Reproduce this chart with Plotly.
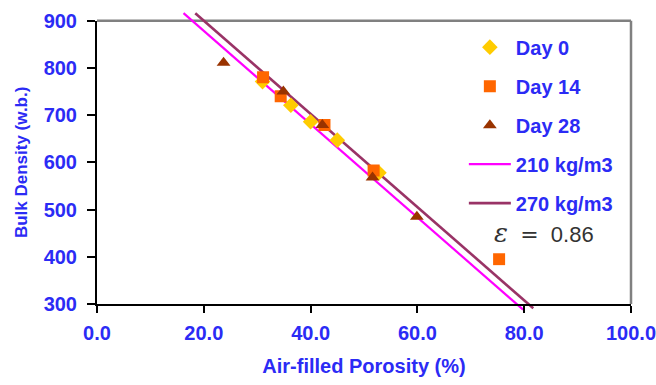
import plotly.graph_objects as go

# ---- data ----
day0_x = [31.0, 36.3, 40.0, 45.0, 52.8]
day0_y = [771, 721, 686, 647, 578]
day14_x = [31.1, 34.4, 42.6, 51.8, 75.3]
day14_y = [780, 740, 679, 583, 395]
day28_x = [23.7, 34.9, 42.2, 51.6, 59.9]
day28_y = [811, 750, 679, 568, 485]
line210_x = [16.2, 79.8]
line210_y = [916, 288]
line270_x = [18.4, 81.7]
line270_y = [916, 291]

x_ticks = [0, 20, 40, 60, 80, 100]
y_ticks = [300, 400, 500, 600, 700, 800, 900]

FONT = "Liberation Sans, Arial, sans-serif"
BLUE = "#2b2bf5"
FS = 20

# plot-area geometry (paper spans y 6..315 px)
W, H = 656, 385
ML, MR, MT, MB = 97, 25, 6, 70
paper_h = H - MT - MB
d0 = (H - MB - 304) / paper_h
d1 = (H - MB - 20.7) / paper_h
units_per_frac = 600 / (d1 - d0)
ext_lo = 300 - d0 * units_per_frac
ext_hi = 900 + (1 - d1) * units_per_frac

fig = go.Figure()

# reference lines on an enlarged (invisible) subplot so they overshoot like the original
fig.add_trace(go.Scatter(x=line210_x, y=line210_y, mode="lines", name="210 kg/m3",
                         line=dict(color="#ff00ff", width=2.2), xaxis="x", yaxis="y",
                         legendgroup="d", legendrank=4))
fig.add_trace(go.Scatter(x=line270_x, y=line270_y, mode="lines", name="270 kg/m3",
                         line=dict(color="#993366", width=2.6), xaxis="x", yaxis="y",
                         legendgroup="e", legendrank=5))

fig.add_trace(go.Scatter(x=day0_x, y=day0_y, mode="markers", name="Day 0",
                         marker=dict(symbol="diamond", size=12, color="#ffcc00"),
                         xaxis="x2", yaxis="y2", legendgroup="a", legendrank=1))
fig.add_trace(go.Scatter(x=day14_x, y=day14_y, mode="markers", name="Day 14",
                         marker=dict(symbol="square", size=12, color="#ff6600"),
                         xaxis="x2", yaxis="y2", legendgroup="b", legendrank=2))
fig.add_trace(go.Scatter(x=day28_x, y=day28_y, mode="markers", name="Day 28",
                         marker=dict(symbol="triangle-up", size=12, color="#993300"),
                         xaxis="x2", yaxis="y2", legendgroup="c", legendrank=3))

bold = dict(family=FONT, size=FS, color=BLUE, weight="bold")

fig.update_layout(
    width=W, height=H,
    margin=dict(l=ML, r=MR, t=MT, b=MB, autoexpand=False),
    paper_bgcolor="white", plot_bgcolor="rgba(0,0,0,0)",
    font=dict(family=FONT, size=FS, color=BLUE),
    showlegend=True,
    legend=dict(x=0.687, y=0.93, xanchor="left", yanchor="top",
                bgcolor="rgba(0,0,0,0)", traceorder="grouped", tracegroupgap=10,
                itemwidth=42, font=bold),
    xaxis=dict(domain=[0, 1], range=[0, 100], visible=False, fixedrange=True, automargin=False),
    yaxis=dict(domain=[0, 1], range=[ext_lo, ext_hi], visible=False, fixedrange=True, automargin=False),
    xaxis2=dict(domain=[0, 1], range=[0, 100], anchor="y2", automargin=False,
                tickvals=x_ticks, ticktext=[f"{v:.1f}" for v in x_ticks],
                showgrid=False, zeroline=False, showline=True, linecolor="black", linewidth=2,
                ticks="outside", ticklen=7, tickwidth=2, tickcolor="black",
                ticklabelstandoff=3, tickfont=bold, ticklabeloverflow="allow",
                title=dict(text="Air-filled Porosity (%)", standoff=16, font=bold)),
    yaxis2=dict(domain=[d0, d1], range=[300, 900], anchor="x2", automargin=False,
                tickvals=y_ticks, ticktext=[str(v) for v in y_ticks],
                showgrid=False, zeroline=False, showline=True, linecolor="black", linewidth=2,
                ticks="outside", ticklen=8, tickwidth=2, tickcolor="black",
                ticklabelstandoff=6, tickfont=bold, ticklabeloverflow="allow",
                title=dict(text="Bulk Density (w.b.)", standoff=12,
                           font=dict(family=FONT, size=17, color=BLUE, weight="bold"))),
)

# grey top and right frame of the plot area
fig.add_shape(type="line", xref="x2 domain", yref="y2 domain", x0=0, x1=1, y0=1, y1=1,
              line=dict(color="#808080", width=2.5), layer="below")
fig.add_shape(type="line", xref="x2 domain", yref="y2 domain", x0=1, x1=1, y0=0, y1=1,
              line=dict(color="#808080", width=2.5), layer="below")

fig.add_annotation(xref="x2 domain", yref="y2 domain", x=0.837, y=0.25,
                   xanchor="center", yanchor="middle",
                   text="<span style='font-family:DejaVu Serif;font-style:italic;font-size:26px'>ε</span>"
                        "&nbsp;&nbsp;<span style='font-family:DejaVu Sans'>=</span>&nbsp;&nbsp;0.86",
                   showarrow=False,
                   font=dict(family=FONT, size=22, color="#333333"))

fig.write_html("out.html", config={"displayModeBar": False},
               post_script="document.body.style.margin='0';")
